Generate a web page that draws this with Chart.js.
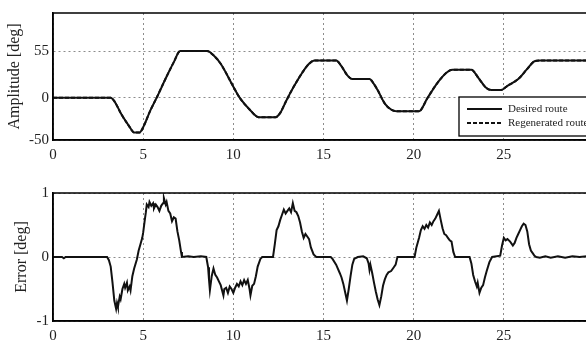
<!DOCTYPE html>
<html>
<head>
<meta charset="utf-8">
<script src="https://cdn.jsdelivr.net/npm/chart.js@4"></script>
<style>
html, body { margin: 0; padding: 0; background: #fff; overflow: hidden; width: 586px; height: 345px; }
#wrap { position: relative; width: 586px; height: 345px; overflow: hidden; }
canvas { position: absolute; left: 0; }
#ampChart { top: 0; }
#errChart { top: 170px; }
</style>
</head>
<body>
<div id="wrap">
  <canvas id="ampChart" width="620" height="170"></canvas>
  <canvas id="errChart" width="620" height="175"></canvas>
</div>
<script>
// time [s] and amplitude [deg] of the route
const ampT = [0, 3.2, 3.4, 3.8, 4.2, 4.5, 4.8, 5.0, 5.4, 5.75,
  6.3, 6.7, 7.05, 8.55, 8.9, 9.3, 10.0, 10.35, 10.9, 11.4,
  12.35, 12.6, 12.95, 13.3, 13.6, 13.9, 14.2, 14.5, 15.7, 16.0,
  16.3, 16.6, 17.55, 17.8, 18.0, 18.4, 18.75, 19.05, 20.3, 20.75,
  21.3, 21.85, 22.15, 23.2, 23.6, 24.0, 24.3, 24.85, 25.2, 25.8,
  26.3, 26.7, 27.0, 30];
const desiredV = [0, 0, -4, -20, -33, -41, -41, -35, -15, 0,
  25, 42, 55, 55, 50, 40, 13, 0, -14, -23,
  -23, -18, -3, 11, 22, 32, 40, 44, 44, 37,
  27, 22, 22, 16, 9, -7, -14, -16, -16, -1,
  17, 30, 33, 33, 23, 12, 9, 9, 14, 22,
  34, 43, 44, 44];
// regenerated route sits on top of the desired one (error < 1 deg)
const regenV = desiredV.slice();

// tracking error [deg]
const errT = [0, 0.5, 0.6, 0.7, 3.0, 3.1, 3.2, 3.3, 3.4, 3.5,
  3.55, 3.6, 3.7, 3.75, 3.85, 3.95, 4.0, 4.1, 4.15, 4.25,
  4.3, 4.4, 4.5, 4.65, 4.75, 4.85, 4.95, 5.0, 5.1, 5.15,
  5.2, 5.3, 5.35, 5.45, 5.55, 5.6, 5.7, 5.8, 5.9, 6.0,
  6.1, 6.15, 6.25, 6.3, 6.4, 6.5, 6.6, 6.7, 6.8, 6.9,
  7.0, 7.1, 7.15, 7.5, 7.8, 8.2, 8.5, 8.6, 8.65, 8.7,
  8.8, 8.9, 9.0, 9.1, 9.2, 9.3, 9.45, 9.5, 9.6, 9.7,
  9.8, 9.9, 10.0, 10.1, 10.2, 10.3, 10.4, 10.5, 10.6, 10.7,
  10.8, 10.9, 10.95, 11.05, 11.15, 11.25, 11.35, 11.5, 11.6, 12.2,
  12.3, 12.4, 12.5, 12.6, 12.7, 12.8, 12.9, 13.0, 13.1, 13.2,
  13.3, 13.4, 13.5, 13.6, 13.7, 13.8, 13.9, 14.0, 14.1, 14.2,
  14.3, 14.45, 14.6, 15.4, 15.5, 15.7, 15.9, 16.0, 16.1, 16.2,
  16.3, 16.4, 16.5, 16.6, 16.7, 16.9, 17.2, 17.4, 17.5, 17.55,
  17.6, 17.7, 17.8, 17.9, 18.0, 18.1, 18.2, 18.3, 18.4, 18.5,
  18.6, 18.75, 18.9, 19.0, 19.1, 20.05, 20.15, 20.3, 20.4, 20.5,
  20.6, 20.7, 20.8, 20.9, 21.0, 21.1, 21.2, 21.3, 21.4, 21.5,
  21.6, 21.7, 21.8, 21.9, 22.0, 22.1, 22.2, 22.3, 23.1, 23.2,
  23.3, 23.4, 23.5, 23.55, 23.65, 23.75, 23.85, 23.95, 24.05, 24.2,
  24.35, 24.8, 24.9, 25.0, 25.1, 25.2, 25.35, 25.5, 25.6, 25.7,
  25.8, 25.9, 26.0, 26.1, 26.2, 26.3, 26.4, 26.5, 26.6, 26.7,
  26.8, 27.0, 27.3, 27.6, 28.0, 28.4, 28.8, 29.2, 29.6, 30];
const errV = [0, 0, -0.02, 0, 0, -0.05, -0.15, -0.4, -0.68, -0.81,
  -0.72, -0.78, -0.62, -0.66, -0.5, -0.42, -0.48, -0.4, -0.52, -0.46,
  -0.52, -0.3, -0.18, -0.04, 0.1, 0.2, 0.3, 0.38, 0.6, 0.7,
  0.82, 0.78, 0.86, 0.8, 0.84, 0.76, 0.82, 0.78, 0.72, 0.8,
  0.84, 0.92, 0.82, 0.86, 0.72, 0.68, 0.56, 0.62, 0.6, 0.4,
  0.26, 0.08, 0, 0.01, 0, 0.01, 0, -0.16, -0.35, -0.52,
  -0.3, -0.18, -0.28, -0.32, -0.38, -0.44, -0.6, -0.5, -0.48, -0.56,
  -0.46, -0.5, -0.56, -0.48, -0.42, -0.46, -0.38, -0.44, -0.36, -0.42,
  -0.36, -0.5, -0.6, -0.45, -0.42, -0.3, -0.15, -0.03, 0, 0,
  0.2, 0.42, 0.48, 0.58, 0.66, 0.74, 0.68, 0.72, 0.76, 0.7,
  0.84, 0.72, 0.7, 0.64, 0.54, 0.4, 0.3, 0.36, 0.32, 0.28,
  0.15, 0.04, 0, 0, -0.03, -0.12, -0.25, -0.32, -0.42, -0.55,
  -0.68, -0.5, -0.3, -0.12, -0.03, 0, 0.01, -0.02, -0.1, -0.2,
  -0.12, -0.25, -0.4, -0.54, -0.66, -0.75, -0.62, -0.45, -0.35, -0.28,
  -0.24, -0.22, -0.16, -0.12, 0, 0, 0.15, 0.3, 0.42, 0.48,
  0.44, 0.5, 0.46, 0.54, 0.5, 0.56, 0.6, 0.66, 0.72, 0.58,
  0.45, 0.36, 0.34, 0.3, 0.26, 0.24, 0.08, 0, 0, -0.1,
  -0.28, -0.38, -0.46, -0.4, -0.56, -0.48, -0.44, -0.32, -0.22, -0.08,
  0, 0.02, 0.18, 0.3, 0.26, 0.28, 0.24, 0.18, 0.22, 0.3,
  0.36, 0.42, 0.48, 0.52, 0.5, 0.4, 0.2, 0.1, 0.06, 0.02,
  0, -0.01, 0.01, -0.01, 0.01, -0.01, 0.01, 0, 0.01, 0];

const ampTicks = [-50, 0, 55];
const errTicks = [-1, 0, 1];
const seriesLabels = ['Desired route', 'Regenerated route'];

const SERIF = "'Liberation Serif', 'Times New Roman', serif";
const TEXT = '#222';

function points(xs, ys) {
    return xs.map((x, i) => ({ x, y: ys[i] }));
}

// draws the full box around the plot area (matlab style)
const frame = {
    id: 'frame',
    afterDraw(chart) {
        const { ctx, chartArea: a } = chart;
        ctx.save();
        ctx.strokeStyle = '#000';
        ctx.lineWidth = 1.5;
        ctx.strokeRect(a.left, a.top, a.right - a.left, a.bottom - a.top);
        ctx.restore();
    }
};

// boxed legend in the lower right of the top plot
const routeLegend = {
    id: 'routeLegend',
    afterDatasetsDraw(chart) {
        const { ctx } = chart;
        const x = 459, y = 97, w = 150, h = 39;
        ctx.save();
        ctx.fillStyle = '#fff';
        ctx.fillRect(x, y, w, h);
        ctx.strokeStyle = '#000';
        ctx.lineWidth = 1.3;
        ctx.strokeRect(x, y, w, h);
        chart.data.datasets.forEach((ds, i) => {
            const ly = y + 12 + i * 14;
            ctx.setLineDash(ds.borderDash || []);
            ctx.lineWidth = ds.borderWidth;
            ctx.strokeStyle = ds.borderColor;
            ctx.beginPath();
            ctx.moveTo(x + 8, ly);
            ctx.lineTo(x + 43, ly);
            ctx.stroke();
            ctx.setLineDash([]);
            ctx.fillStyle = TEXT;
            ctx.font = '11px ' + SERIF;
            ctx.textBaseline = 'middle';
            ctx.fillText(ds.label, x + 49, ly);
        });
        ctx.restore();
    }
};

function axes(yMin, yMax, yTicks, yTitle, titlePad, xHeight) {
    const tickFont = { family: SERIF, size: 15 };
    return {
        x: {
            type: 'linear', min: 0, max: 30,
            ticks: { stepSize: 5, color: TEXT, font: tickFont, padding: 6, maxRotation: 0 },
            grid: { color: '#8c8c8c', lineWidth: 1, drawTicks: false },
            border: { color: '#000', width: 1.5, dash: [2, 3] },
            afterFit: s => { s.height = xHeight; }
        },
        y: {
            min: yMin, max: yMax,
            afterBuildTicks: s => { s.ticks = yTicks.map(v => ({ value: v })); },
            ticks: { color: TEXT, font: tickFont, padding: 4 },
            grid: { color: '#8c8c8c', lineWidth: 1, drawTicks: false },
            border: { color: '#000', width: 1.5, dash: [2, 3] },
            title: { display: true, text: yTitle, color: TEXT,
                     font: { family: SERIF, size: 16 }, padding: { top: titlePad, bottom: 0 } },
            afterFit: s => { s.width = 53; }
        }
    };
}

const common = {
    responsive: false,
    animation: false,
    plugins: { legend: { display: false }, tooltip: { enabled: false } },
    elements: { point: { radius: 0 } }
};

new Chart(document.getElementById('ampChart'), {
    type: 'line',
    data: {
        datasets: [
            { label: seriesLabels[0], data: points(ampT, desiredV), borderColor: '#111',
              borderWidth: 2, cubicInterpolationMode: 'monotone', fill: false },
            { label: seriesLabels[1], data: points(ampT, regenV), borderColor: '#111',
              borderWidth: 2, borderDash: [4, 2], cubicInterpolationMode: 'monotone', fill: false }
        ]
    },
    options: Object.assign({}, common, {
        layout: { padding: { top: 12, right: 26, left: 0, bottom: 0 } },
        scales: axes(-50, 100, ampTicks, 'Amplitude [deg]', 5, 30)
    }),
    plugins: [frame, routeLegend]
});

new Chart(document.getElementById('errChart'), {
    type: 'line',
    data: {
        datasets: [
            { label: 'Error', data: points(errT, errV), borderColor: '#111',
              borderWidth: 2, tension: 0, fill: false }
        ]
    },
    options: Object.assign({}, common, {
        layout: { padding: { top: 23, right: 26, left: 0, bottom: 0 } },
        scales: axes(-1, 1, errTicks, 'Error [deg]', 12, 24)
    }),
    plugins: [frame]
});
</script>
</body>
</html>
